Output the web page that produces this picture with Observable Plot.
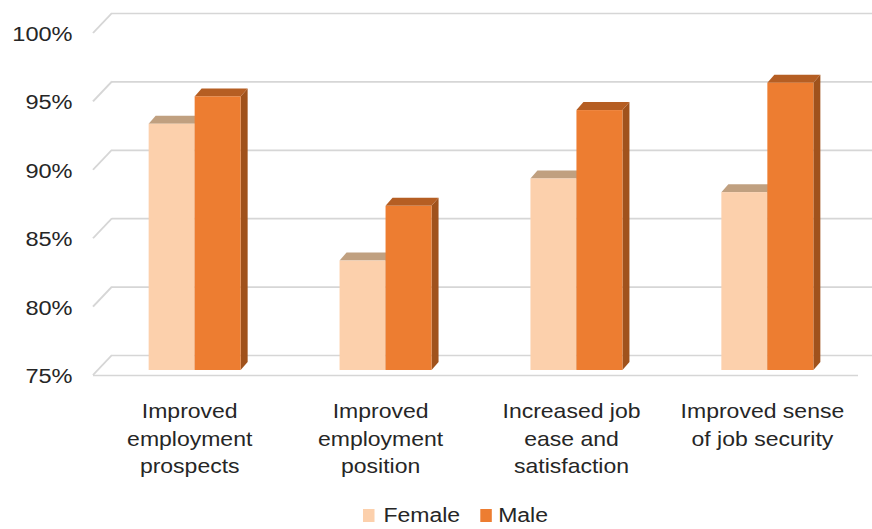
<!DOCTYPE html>
<html>
<head>
<meta charset="utf-8">
<script src="https://cdn.jsdelivr.net/npm/d3@7"></script>
<script src="https://cdn.jsdelivr.net/npm/@observablehq/plot@0.6"></script>
<style>
  html, body { margin: 0; padding: 0; background: #fff; }
  body { position: relative; width: 872px; height: 529px; overflow: hidden; font-family: "Liberation Sans", Arial, sans-serif; }
  #legend { position: absolute; left: 363px; top: 502px; transform: scaleX(1.15); transform-origin: 0 0;
            display: flex; align-items: center; font-size: 20px; color: #262626; line-height: 26px; white-space: nowrap; }
  #legend .sw { display: inline-block; width: 10px; height: 13px; }
</style>
</head>
<body>
<div id="chart"></div>
<div id="legend"></div>
<script>
// ---- data ----
const categories = ["Improved employment prospects", "Improved employment position", "Increased job ease and satisfaction", "Improved sense of job security"];
const categoryLabels = ["Improved\nemployment\nprospects", "Improved\nemployment\nposition", "Increased job\nease and\nsatisfaction", "Improved sense\nof job security"];
const series = ["Female", "Male"];
const female = [93, 83, 89, 88];
const male = [95, 87, 94, 96];
const yTicks = [75, 80, 85, 90, 95, 100];
const tickLabels = ["75%", "80%", "85%", "90%", "95%", "100%"];

// ---- styling ----
const S = 1.15;               // horizontal stretch of the original image
const W = 872 / S;
const H = 480;
const textColor = "#262626";
const colors = {
  Female: {front: "#fcd0ac", top: "#c0a080", side: "#b89a7c"},
  Male:   {front: "#ed7d31", top: "#b55e23", side: "#a0521c"}
};
const floorOff = [-19 / S, 20];     // front edge of floor relative to back wall
const barFront = [-13.5 / S, 15];   // bar front face offset
const barBack  = [-6.5 / S, 7];     // bar back face offset
const gridColor = "#d6d6d6";

const seriesValues = {Female: female, Male: male};

function sideWalls(index, scales, values, dims) {
  const {y} = scales;
  const g = d3.create("svg:g").attr("stroke", gridColor).attr("stroke-width", 1.7).attr("fill", "none");
  const x0 = dims.marginLeft;
  for (const t of yTicks) {
    g.append("line")
      .attr("x1", x0).attr("y1", y(t))
      .attr("x2", x0 + floorOff[0]).attr("y2", y(t) + floorOff[1]);
  }
  return g.node();
}

function bars3d(index, scales) {
  const {x, y} = scales;
  const bw = typeof x.bandwidth === "function" ? x.bandwidth() : x.bandwidth;
  const g = d3.create("svg:g");
  const pts = (arr) => arr.map(p => p.join(",")).join(" ");
  categories.forEach((c, i) => {
    const gx = x(c);
    series.forEach((s, k) => {
      const v = seriesValues[s][i];
      const xl = gx + k * bw / 2, xr = xl + bw / 2;
      const yt = y(v), yb = y(yTicks[0]);
      const col = colors[s];
      const F = (px, py) => [px + barFront[0], py + barFront[1]];
      const B = (px, py) => [px + barBack[0], py + barBack[1]];
      g.append("polygon").attr("fill", col.side)
        .attr("points", pts([F(xr, yt), B(xr, yt), B(xr, yb), F(xr, yb)]));
      g.append("polygon").attr("fill", col.top)
        .attr("points", pts([F(xl, yt), F(xr, yt), B(xr, yt), B(xl, yt)]));
      const [fx, fy] = F(xl, yt);
      const [, fb] = F(xl, yb);
      g.append("rect").attr("fill", col.front)
        .attr("x", fx).attr("y", fy).attr("width", xr - xl).attr("height", fb - fy);
    });
  });
  return g.node();
}

const plot = Plot.plot({
  width: W,
  height: H,
  marginLeft: 112 / S,
  marginRight: -5 / S,
  marginTop: 13,
  marginBottom: H - 355,
  x: {type: "band", domain: categories, paddingInner: 0.52, paddingOuter: 0.26, axis: null},
  y: {type: "linear", domain: [75, 100], axis: null},
  style: {fontFamily: "'Liberation Sans', Arial, sans-serif", fontSize: "20px", color: textColor, background: "#fff", overflow: "hidden"},
  marks: [
    Plot.ruleY(yTicks, {y: d => d, stroke: gridColor, strokeWidth: 1.7}),
    sideWalls,
    Plot.ruleY([yTicks[0]], {y: d => d, stroke: gridColor, strokeWidth: 1.7, dx: floorOff[0], dy: floorOff[1]}),
    bars3d,
    Plot.text(yTicks, {y: d => d, text: tickLabels, frameAnchor: "left", textAnchor: "end",
                       dx: (72 - 112) / S, dy: 21, fill: textColor, fontSize: 20.5}),
    Plot.text(categories, {x: d => d, y: () => yTicks[0], text: categoryLabels, lineAnchor: "top", lineHeight: 1.375,
                           dx: floorOff[0], dy: 43, fill: textColor, fontSize: 20, textAnchor: "middle"})
  ]
});

plot.setAttribute("width", 872);
plot.setAttribute("height", H);
plot.setAttribute("preserveAspectRatio", "none");
plot.style.width = "872px";
plot.style.height = H + "px";
plot.style.maxWidth = "none";
document.getElementById("chart").appendChild(plot);

// legend
const legend = document.getElementById("legend");
series.forEach((s, k) => {
  const sw = document.createElement("span");
  sw.className = "sw";
  sw.style.background = colors[s].front;
  sw.style.marginLeft = k === 0 ? "0px" : "17px";
  const tx = document.createElement("span");
  tx.textContent = s;
  tx.style.marginLeft = k === 0 ? "7.8px" : "6px";
  legend.appendChild(sw);
  legend.appendChild(tx);
});
</script>
</body>
</html>
